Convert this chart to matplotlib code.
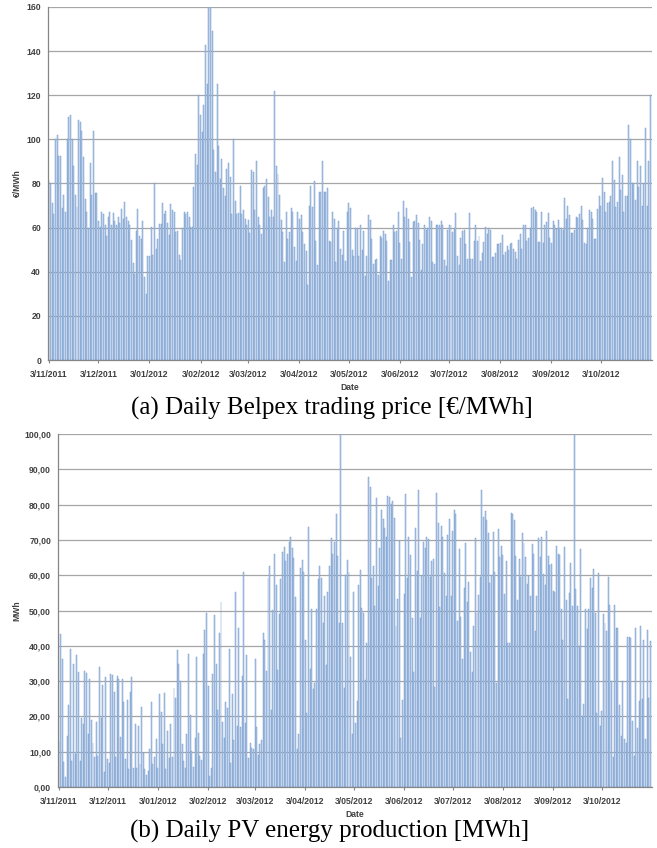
import matplotlib
matplotlib.use('Agg')
import matplotlib.pyplot as plt
import numpy as np

# daily values, 3/11/2011 .. 2/11/2012 (366 days)
start = np.datetime64('2011-11-03')
month_dates = np.array(['2011-11-03', '2011-12-03', '2012-01-03', '2012-02-03',
                        '2012-03-03', '2012-04-03', '2012-05-03', '2012-06-03',
                        '2012-07-03', '2012-08-03', '2012-09-03', '2012-10-03'],
                       dtype='datetime64[D]')
month_labels = ['3/11/2011', '3/12/2011', '3/01/2012', '3/02/2012', '3/03/2012',
                '3/04/2012', '3/05/2012', '3/06/2012', '3/07/2012', '3/08/2012',
                '3/09/2012', '3/10/2012']

# Belpex price [EUR/MWh]
price_1 = [81.5, 80, 71, 66, 100, 102, 92.5, 92.5, 69, 75,
           67, 100, 110, 111, 100, 88, 75, 69.5, 109, 108,
           104, 92, 73, 67, 60, 89.5, 75, 104, 75.5, 75.5,
           63, 60.5, 67, 66, 61, 56, 65, 67, 61, 66.5,
           63, 61, 65, 62, 68.5, 64, 71.5, 65, 63, 61,
           54.5, 44, 39, 58.5, 68.5, 56, 55, 63, 37.5, 30,
           47, 47, 60.5, 47.5, 80, 50.5, 55, 61.5, 61.5, 71,
           66, 67.5, 62, 56.5, 70.5, 68, 67, 58, 58.5, 47.5,
           45.5, 60, 67, 66, 67, 65, 60.5, 60.5, 78.5, 93.5,
           88.5, 120, 111, 103.5, 115.5, 143, 125, 175, 168, 149,
           95, 85, 125, 97, 82, 91, 78, 74.5, 86.5, 89.5]
price_2 = [83, 66, 100, 72, 66, 66.5, 79, 66, 68, 64,
           61, 63.5, 57.5, 86, 85, 68, 90, 65, 61, 57,
           78, 79, 82, 74, 65, 68, 65, 122, 88, 84.5,
           75, 63.5, 58, 44.5, 67, 55, 58, 69, 67, 51,
           45, 67, 64, 65.5, 58, 52.5, 49.5, 34, 70, 79,
           69.5, 81, 54, 43, 76, 76, 90, 76, 76, 78,
           54, 53.5, 67, 64, 44.5, 60, 63, 50.5, 47.5, 58.5,
           45, 67, 71, 69, 50, 47, 60, 60, 47, 61, 50,
           58.5, 38, 47, 65.5, 63.5, 55, 43.5, 45.5, 46, 38.5,
           56, 55.5, 58.5, 57, 54, 36, 45.5, 45.5, 61, 58,
           58.5, 67, 53, 46, 72, 65, 69, 64, 53.5, 37.5,
           62.5, 63, 65.5, 62, 54.5, 41, 52.5, 61, 59, 60,
           65, 63, 44.5, 43.5, 61, 61, 61, 63, 61, 45.5,
           42.5, 59, 61]
price_3 = [61, 58, 60, 66.5, 47, 43, 55.5, 58.5, 59, 52.5, 46,
           66.5, 46, 46, 54, 61, 54, 56, 45, 48.5, 53.5,
           60.5, 57, 60, 59, 46.5, 46.5, 48.5, 52.5, 52.5, 53,
           56.5, 47.5, 49, 51.5, 50, 52.5, 53, 50.5, 49, 46,
           54.5, 57, 50.5, 61, 61, 54, 55.5, 60, 69, 69.5,
           68, 67, 53.5, 53.5, 67, 53, 61, 62.5, 66.5, 55.5,
           53, 63, 61, 59.5, 63.5, 60, 60, 59, 73.5, 64,
           70, 65.5, 57.5, 57.5, 59, 65, 64.5, 66, 70, 63.5,
           53, 52.5, 60, 68, 67, 64, 55, 55, 68.5, 74.5,
           70, 82.5, 76, 67, 71, 71.5, 74.5, 90, 81.5, 69.5,
           71.5, 92, 77, 84, 67, 74.5, 74.5, 106.5, 100, 80,
           80, 72.5, 90, 78.5, 88, 70, 80, 105, 70, 90,
           120]

# PV production [MWh]
pv_1 = [13, 43.4, 36.3, 7.1, 2.8, 14.5, 23.3, 39.2, 7.5, 34.8,
        9.3, 37.5, 32.5, 7.4, 19.5, 17.8, 33, 32.3, 15, 30.6,
        18.9, 12.5, 8.4, 18.3, 8.9, 34, 19.5, 28.8, 4.2, 31.3,
        8, 6.8, 32, 31.8, 26.8, 8.5, 31.5, 30.6, 14.2, 30.6,
        24, 8, 24.7, 5.2, 27, 31.1, 5.4, 17.9, 5.3, 17.4,
        6.6, 22.6, 9.6, 5.1, 3.5, 4.6, 10.8, 24, 6.5, 8.4,
        13.6, 5.4, 26.3, 21.3, 12.3, 26.6, 5.1, 16, 8.2, 17.8,
        8.5, 28, 25.2, 38.7, 34.8, 30, 12.3, 7.5, 5.4, 15,
        37.6, 20.5, 10.1, 5.8, 13.9, 36.8, 15.3, 8.7, 7.7, 37.6,
        44.5, 49.2, 28.7, 3.2, 5.4, 32, 48.6, 34.9, 21.7, 43.6,
        52.3, 18.3, 13.9, 24, 22.5, 39.2]
pv_2 = [6.8, 26.3, 13.4, 55.2, 17.2, 45, 17, 31.5, 60.8, 18.1,
        37.5, 8.2, 12.6, 11, 10.8, 36.2, 16.9, 9.2, 12.3, 13.2,
        43.6, 41.7, 33, 59.2, 62.7, 21.9, 50.2, 65.9, 57.3, 33.2,
        49, 59, 66.5, 68.1, 64.1, 65.9, 69.3, 70.9, 67.8, 64.8,
        53.7, 10.8, 15, 62, 64.3, 60.8, 41.7, 20.9, 73.6, 33.4,
        50.5, 27.7, 29.4, 50.4, 58.9, 62.6, 59.2, 46.4, 54.2, 34.6,
        55.3, 62.5, 70.5, 65.9, 69.5, 77.3, 65.5, 46.6, 100, 46.6,
        28, 60.1, 64.3, 60.8, 36.8, 15.1, 55.1, 18.1, 24.5, 57.3,
        61.5, 50.7, 49.4, 30.4, 40.9, 87.7, 84.9, 59.3, 62.7, 51.3,
        81.8, 56.8, 67.6, 78.5, 75.9, 73.5, 70.7, 82.5, 82.1, 80.1,
        81, 76.3, 45.5, 53.3, 69.8, 13.9, 24.7, 54.7, 82.9, 59.3,
        70.7, 65.8, 48, 32.7, 73.3, 61.2, 84, 48, 59.8, 69.5,
        67.8, 70.9, 70.2, 59.6, 63.9, 64.5, 28.2, 83.4, 74.9, 50.9,
        73.8, 70.9, 60.6, 54]
pv_3 = [71.4, 75.8, 54.2, 72.5, 78.5, 77.3, 46.9, 67.5, 48.1, 36.2,
        56.3, 69.1, 52.5, 58, 38.2, 32.5, 45.5, 70.5, 49.4, 54.4,
        59.6, 84, 76.6, 78.3, 75.5, 71.9, 57.7, 60.1, 72.2, 61,
        29.4, 73.1, 65.1, 68.3, 65.8, 54.6, 64.1, 40.9, 40.8, 77.5,
        77.4, 75.5, 65.5, 53, 64.6, 59.6, 71.9, 69.1, 65.1, 57.5,
        59.9, 54.2, 68.8, 65.9, 44.1, 54.2, 70.5, 65.1, 70.9, 60.3,
        57.3, 72.5, 65.5, 62.9, 63.2, 55.4, 55.1, 68.3, 65.9, 65.8,
        50.5, 41.7, 68.1, 53, 25, 54.9, 63.4, 51.3, 100, 56,
        51.3, 40, 67.4, 20.2, 23.6, 50.4, 44.8, 50.4, 59.2, 56.5,
        61.8, 49.2, 21.1, 60.6, 17.2, 21.6, 49, 46.6, 44.3, 59.6,
        51.6, 29.9, 8.5, 51.6, 45, 45, 23.3, 14.5, 29.9, 13.7,
        12.6, 42.6, 42.5, 42.2, 18.6, 8.9, 45, 16.7, 24.5, 45.7,
        24.9, 41.7, 13.5, 44.5, 25.2, 41.5]

price = np.array(price_1 + price_2 + price_3)
pv = np.array(pv_1 + pv_2 + pv_3)

price_ticks = list(range(0, 161, 20))
pv_ticks = list(range(0, 101, 10))
pv_ticklabels = ['%d,00' % v for v in pv_ticks]

tick_pos = (month_dates - start).astype(int)

fig = plt.figure(figsize=(6.57, 8.48), dpi=100)
ax1 = fig.add_axes([48 / 657, 1 - 360 / 848, 604 / 657, 353 / 848])
ax2 = fig.add_axes([58 / 657, 1 - 787 / 848, 594 / 657, 353 / 848])

lab_font = dict(family='Liberation Sans', fontsize=6.2, color='#404040', fontweight='bold')


def style(ax, vals, ymax, yticks, yticklabels, ylabel, ylpad):
    ax.bar(np.arange(len(vals)), vals, width=0.6, color='#bdd0e9',
           edgecolor='#6690c8', linewidth=0.3, zorder=2)
    ax.set_xlim(-0.6, 366)
    ax.set_ylim(0, ymax)
    ax.set_yticks(yticks)
    ax.set_yticklabels(yticklabels, **lab_font)
    ax.set_xticks(tick_pos)
    ax.set_xticklabels(month_labels, **lab_font)
    ax.grid(axis='y', color='#a6a6a6', linewidth=0.9, zorder=0)
    ax.set_axisbelow(True)
    for s in ['top', 'right']:
        ax.spines[s].set_visible(False)
    for s in ['left', 'bottom']:
        ax.spines[s].set_color('#868686')
        ax.spines[s].set_linewidth(0.9)
    ax.tick_params(axis='y', length=0, pad=5)
    ax.tick_params(axis='x', length=2, color='#868686', pad=5)
    ax.set_xlabel('Date', labelpad=3, **lab_font)
    ax.set_ylabel(ylabel, labelpad=ylpad, **lab_font)


style(ax1, price, 160, price_ticks, [str(v) for v in price_ticks], '€/MWh', 3)
style(ax2, pv, 100, pv_ticks, pv_ticklabels, 'MWh', 2)

cap = dict(family='Liberation Serif', fontsize=18, ha='center', va='center')
fig.text(332 / 657, 1 - 408 / 848, '(a) Daily Belpex trading price [€/MWh]', **cap)
fig.text(330 / 657, 1 - 831 / 848, '(b) Daily PV energy production [MWh]', **cap)

plt.savefig('out.png', dpi=100)
plt.close()
